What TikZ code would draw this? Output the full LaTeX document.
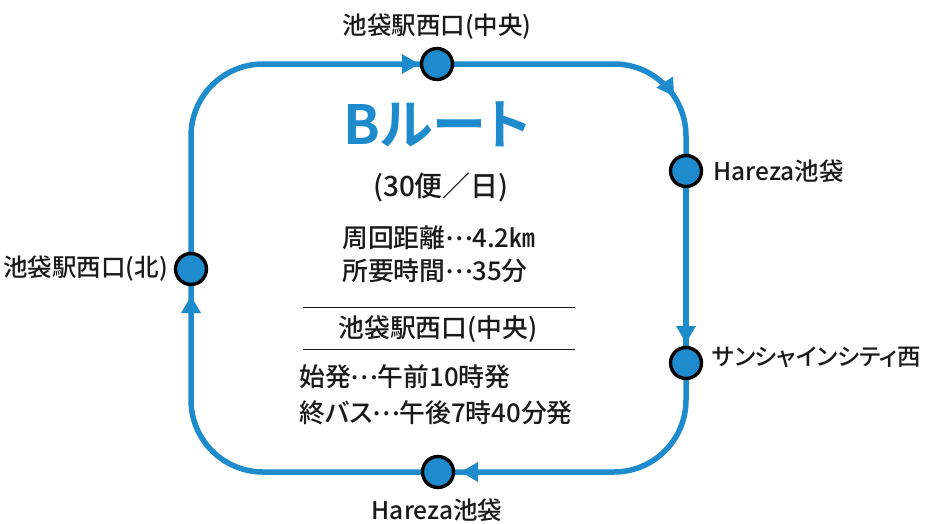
\documentclass[tikz,border=0pt]{standalone}
\usepackage{fontspec}
\setmainfont{Noto Sans CJK JP}[UprightFont=* Medium, BoldFont=* Bold, RawFeature=+palt]
\usepackage{tikz}
\usetikzlibrary{arrows.meta, decorations.markings}

\definecolor{routeblue}{RGB}{30,139,205}
\definecolor{textgray}{RGB}{26,26,26}

% mid-height ellipsis
\newcommand{\tdots}{\makebox[1.05em][c]{\raisebox{.3em}{…}}}

\tikzset{
    route/.style={line width=5.5pt, draw=routeblue, rounded corners=72pt},
    station/.style={circle, draw=black, line width=3.4pt, fill=routeblue, minimum size=31pt, inner sep=0pt},
    tipat/.style={postaction={decorate, decoration={markings,
        mark=at position #1 with {\arrow{Triangle[length=17pt, width=20pt, line width=0pt]}}}}},
    lbl/.style={font=\fontsize{24.5}{28}\selectfont, text=textgray, inner sep=0pt},
    info/.style={lbl, font=\fontsize{25.8}{30}\selectfont},
}

\begin{document}
\begin{tikzpicture}[x=1pt, y=-1pt]
        \useasboundingbox (0, 0) rectangle (927, 523);

        % stops on the loop
        \coordinate (p1) at (437, 64);
        \coordinate (p2) at (686, 171);
        \coordinate (p3) at (686, 363);
        \coordinate (p4) at (438, 472);
        \coordinate (p5) at (191, 269);

        \draw[route, tipat=248pt] (p1) -| (p2);
        \draw[route, tipat=-20pt] (p2) -- (p3);
        \draw[route, tipat=-23pt] (p3) |- (p4);
        \draw[route, tipat=-27pt] (p4) -| (p5);
        \draw[route, tipat=-18pt] (p5) |- (p1);

        \node[station] (s1) at (p1) {};
        \node[station] (s2) at (p2) {};
        \node[station] (s3) at (p3) {};
        \node[station] (s4) at (p4) {};
        \node[station] (s5) at (p5) {};

        \node[lbl, anchor=center] (l1) at (437, 27) {池袋駅西口(中央)};
        \node[lbl, anchor=west] (l2) at (713, 171) {Hareza池袋};
        \node[lbl, anchor=west, font=\fontsize{23.5}{28}\selectfont] (l3) at (712, 357) {サンシャインシティ西};
        \node[lbl, anchor=center] (l4) at (437, 510) {Hareza池袋};
        \node[lbl, anchor=east] (l5) at (168, 269) {池袋駅西口(北)};

        % route info
        \node[font=\fontsize{54}{60}\selectfont\bfseries, text=routeblue, inner sep=0pt] (ttl) at (437, 124) {Bルート};
        \node[info, anchor=center, font=\fontsize{28}{30}\selectfont] (freq) at (441, 187) {(30便／日)};
        \node[info, anchor=west] (dist) at (342, 238) {周回距離\tdots 4.2㎞};
        \node[info, anchor=west] (time) at (342, 271) {所要時間\tdots 35分};

        \draw[line width=1pt, textgray] (303, 307) -- (575, 307);
        \node[info, anchor=center] (start) at (438, 329) {池袋駅西口(中央)};
        \draw[line width=1pt, textgray] (303, 349) -- (575, 349);

        \node[info, anchor=west] (first) at (299, 377) {始発\tdots 午前10時発};
        \node[info, anchor=west] (last) at (299, 413) {終バス\tdots 午後7時40分発};

    \end{tikzpicture}
\end{document}
